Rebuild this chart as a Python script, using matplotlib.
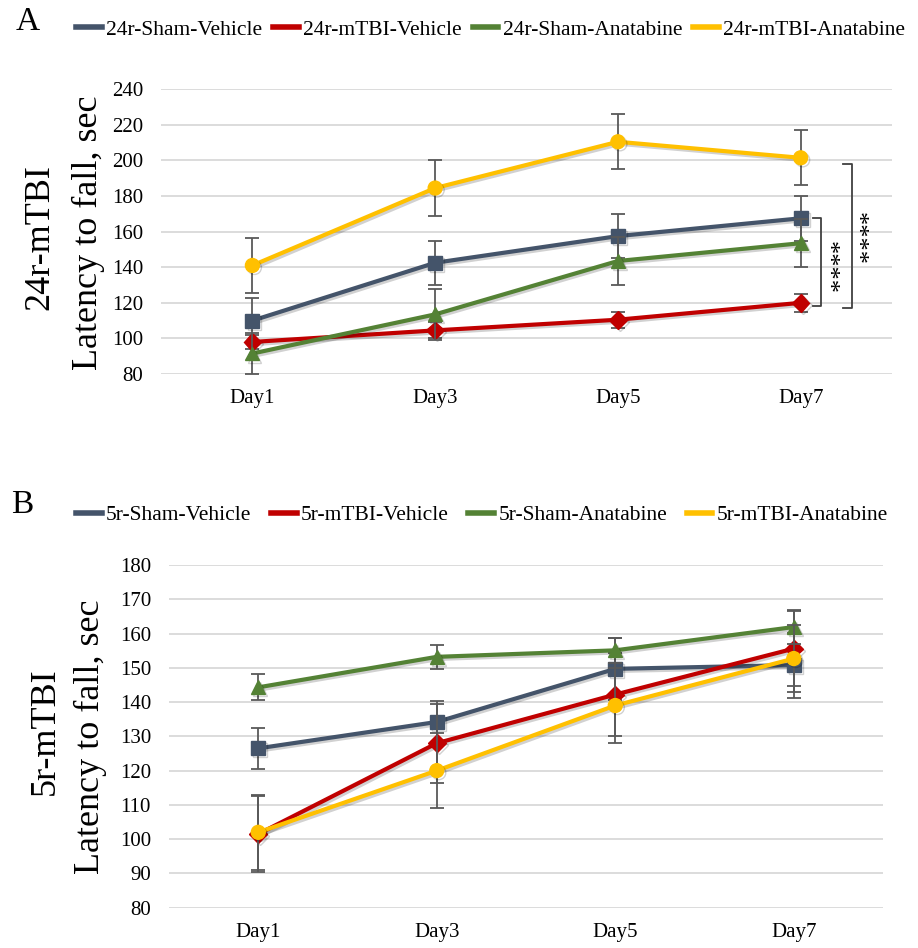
import matplotlib
matplotlib.use("Agg")
import matplotlib.pyplot as plt
import matplotlib.patheffects as pe

plt.rcParams['font.family'] = ['Liberation Serif', 'DejaVu Serif']

days = ['Day1', 'Day3', 'Day5', 'Day7']

# Panel A (24r)
a_labels = ['24r-Sham-Vehicle', '24r-mTBI-Vehicle', '24r-Sham-Anatabine', '24r-mTBI-Anatabine']
a_sham_veh = [110, 142.5, 157.5, 167.5]
a_sham_veh_err = [12.5, 12.5, 12.5, 12.5]
a_mtbi_veh = [98, 104.5, 110.5, 120]
a_mtbi_veh_err = [4, 4.5, 4.5, 5]
a_sham_ana = [91.5, 113.5, 143.5, 153.5]
a_sham_ana_err = [11.5, 14.5, 13.7, 13.5]
a_mtbi_ana = [141, 184.5, 210.5, 201.5]
a_mtbi_ana_err = [15.5, 15.5, 15.5, 15.5]

# Panel B (5r)
b_labels = ['5r-Sham-Vehicle', '5r-mTBI-Vehicle', '5r-Sham-Anatabine', '5r-mTBI-Anatabine']
b_sham_veh = [126.5, 134.2, 149.7, 150.8]
b_sham_veh_err = [6, 6, 9, 9.5]
b_mtbi_veh = [101.5, 128, 142.2, 155.6]
b_mtbi_veh_err = [11, 11.5, 12, 11]
b_sham_ana = [144.3, 153.2, 155.1, 161.9]
b_sham_ana_err = [3.8, 3.6, 3.6, 5]
b_mtbi_ana = [102, 120, 139, 152.7]
b_mtbi_ana_err = [11, 11, 11, 9.7]

colors = ['#44546A', '#C00000', '#548235', '#FFC000']
markers = ['s', 'D', '^', 'o']
msizes = [10, 9, 10, 10]

fig = plt.figure(figsize=(9.18, 9.48), dpi=100)
axA = fig.add_axes([0.1754, 0.6055, 0.7963, 0.3003])
axB = fig.add_axes([0.1841, 0.0425, 0.7778, 0.3615])

x = list(range(len(days)))
shadow = [pe.SimpleLineShadow(offset=(1.5, -1.5), alpha=0.18), pe.Normal()]


def draw_panel(ax, series, errs, labels, ylim, step, ypad):
    handles = []
    for i, (vals, err) in enumerate(zip(series, errs)):
        ax.errorbar(x, vals, yerr=err, fmt='none', ecolor='#595959',
                    elinewidth=1.3, capsize=5, capthick=1.3, zorder=2 + i)
        ax.plot(x, vals, color=colors[i], lw=3, marker=markers[i],
                ms=msizes[i], mfc=colors[i], mec=colors[i],
                zorder=3 + i, path_effects=shadow)
        h, = ax.plot([], [], color=colors[i], lw=4, label=labels[i])
        handles.append(h)
    ax.set_xlim(-0.5, 3.5)
    ax.set_ylim(*ylim)
    ax.set_yticks(range(ylim[0], ylim[1] + 1, step))
    ax.set_xticks(x)
    ax.set_xticklabels(days)
    ax.yaxis.grid(True, color='#D9D9D9', lw=1.3)
    ax.set_axisbelow(True)
    for s in ax.spines.values():
        s.set_visible(False)
    ax.tick_params(axis='both', length=0, labelsize=15)
    ax.tick_params(axis='y', pad=ypad)
    ax.tick_params(axis='x', pad=11)
    return handles


hA = draw_panel(axA, [a_sham_veh, a_mtbi_veh, a_sham_ana, a_mtbi_ana],
                [a_sham_veh_err, a_mtbi_veh_err, a_sham_ana_err, a_mtbi_ana_err],
                a_labels, (80, 240), 20, 13)
hB = draw_panel(axB, [b_sham_veh, b_mtbi_veh, b_sham_ana, b_mtbi_ana],
                [b_sham_veh_err, b_mtbi_veh_err, b_sham_ana_err, b_mtbi_ana_err],
                b_labels, (80, 180), 10, 13)


# significance brackets at Day7
def bracket(ax, x0, x1, ytop, ybot, tx, ty):
    ax.plot([x0, x1, x1, x0], [ytop, ytop, ybot, ybot], color='#404040', lw=1.3,
            clip_on=False, zorder=10)
    ax.text(tx, ty, '****', rotation=270, ha='center', va='center',
            fontsize=19, clip_on=False)

bracket(axA, 3.07, 3.11, a_sham_veh[3], a_mtbi_veh[3] - 2, 3.14, 140)
bracket(axA, 3.23, 3.28, a_mtbi_ana[3] - 3.5, a_mtbi_veh[3] - 3, 3.30, 156)

# axis titles
fig.text(88 / 918, 1 - 233 / 948, 'Latency to fall, sec', rotation=90,
         ha='center', va='center', fontsize=26)
fig.text(40 / 918, 1 - 237 / 948, '24r-mTBI', rotation=90,
         ha='center', va='center', fontsize=26)
fig.text(90 / 918, 1 - 737 / 948, 'Latency to fall, sec', rotation=90,
         ha='center', va='center', fontsize=26)
fig.text(45 / 918, 1 - 731 / 948, '5r-mTBI', rotation=90,
         ha='center', va='center', fontsize=26)

fig.text(28 / 918, 1 - 22 / 948, 'A', ha='center', va='center', fontsize=24)
fig.text(22 / 918, 1 - 505 / 948, 'B', ha='center', va='center', fontsize=24)

fig.legend(handles=hA, loc='center left', bbox_to_anchor=(76 / 918, 1 - 30 / 948), ncol=4,
           frameon=False, fontsize=15.5, handlelength=1.2, handletextpad=0.2,
           columnspacing=0.5, borderaxespad=0, borderpad=0)
fig.legend(handles=hB, loc='center left', bbox_to_anchor=(76 / 918, 1 - 515 / 948), ncol=4,
           frameon=False, fontsize=15.5, handlelength=1.2, handletextpad=0.2,
           columnspacing=0.9, borderaxespad=0, borderpad=0)

fig.savefig('out.png', dpi=100)
